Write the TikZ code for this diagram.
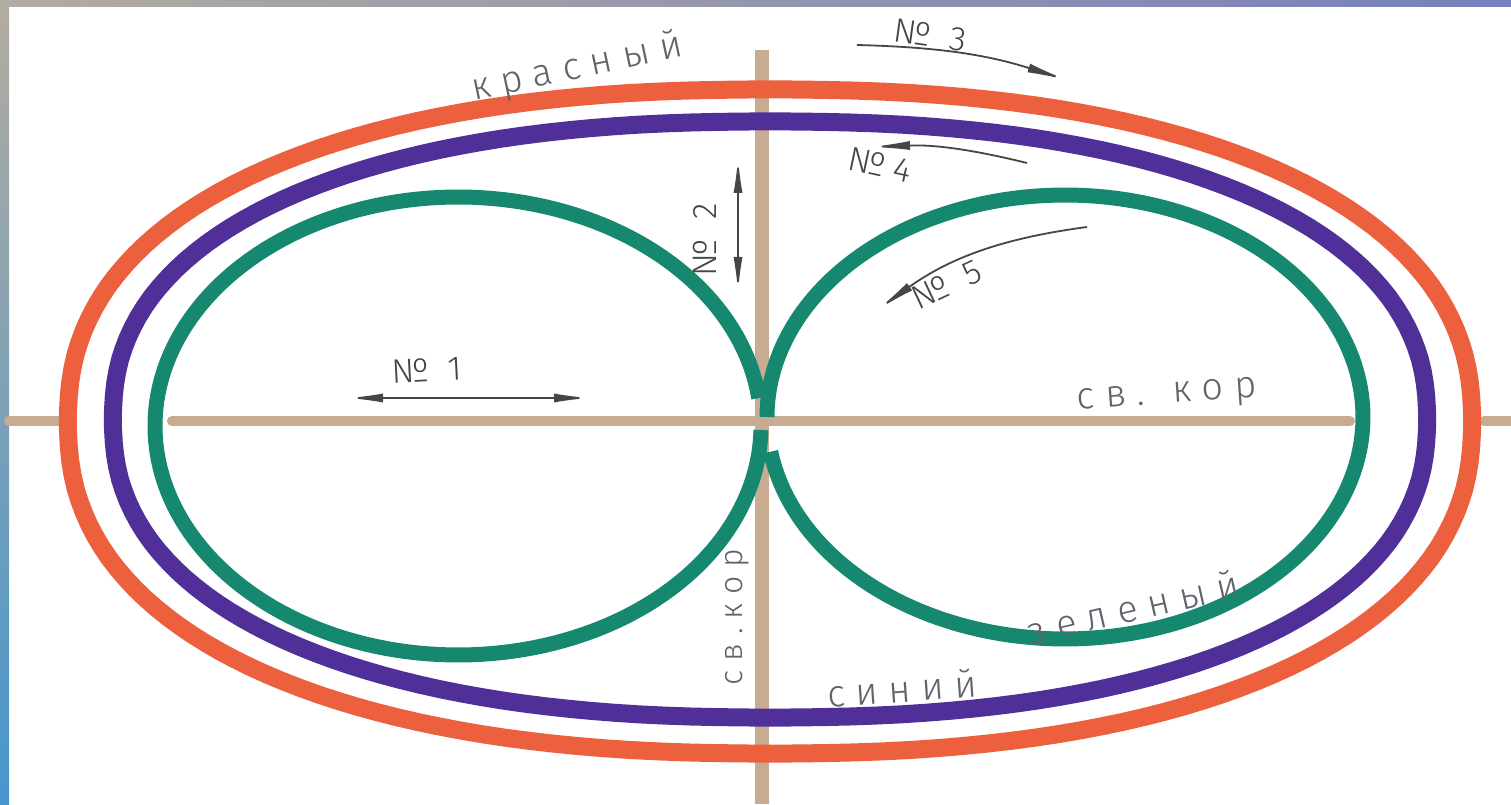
\documentclass[tikz,border=0pt]{standalone}
\usepackage{fontspec}
\newfontfamily\hand[LetterSpace=28]{Fira Sans Light}
\usetikzlibrary{arrows.meta}
\definecolor{ringred}{RGB}{236, 96, 62}
\definecolor{ringblue}{RGB}{80, 48, 152}
\definecolor{ringgreen}{RGB}{22, 136, 112}
\definecolor{barwood}{RGB}{200, 172, 146}
\definecolor{pencil}{RGB}{96, 100, 106}
\definecolor{slidetan}{RGB}{178, 172, 160}
\definecolor{slideblue}{RGB}{118, 128, 188}
\definecolor{slidesea}{RGB}{70, 150, 205}
\tikzstyle{ring}    = [line width=9pt, line join=round]
\tikzstyle{loop}    = [line width=7.5pt, draw=ringgreen, line cap=butt]
\tikzstyle{bar}     = [line width=5pt, draw=barwood, line cap=round]
\tikzstyle{pencil}  = [text=pencil, inner sep=0pt, font=\hand\fontsize{19}{21}\selectfont]
\tikzstyle{numtext} = [text=pencil!70!black, inner sep=0pt, font=\hand\fontsize{17}{19}\selectfont]
\tikzstyle{dir}     = [draw=pencil!70!black, line width=0.9pt, -{Latex[length=20pt, width=4.5pt]}]
\tikzstyle{dirtwo}  = [draw=pencil!70!black, line width=0.9pt, {Latex[length=18pt, width=4.5pt]}-{Latex[length=18pt, width=4.5pt]}]

\begin{document}
\begin{tikzpicture}[x=0.5pt, y=0.5pt]
  \useasboundingbox (0,0) rectangle (1511,804);
  \fill[white] (0,0) rectangle (1511,804);
  \shade[left color=slidetan, right color=slideblue] (0,797) rectangle (1511,804);
  \shade[top color=slidetan, bottom color=slidesea] (0,0) rectangle (9,797);

  % wooden axes
  \draw[bar] (9,383) -- (66,383);
  \draw[bar] (172,383) -- (1350,383);
  \draw[bar] (1484,383) -- (1511,383);
  \draw[bar, line width=7pt, line cap=butt] (762,754) -- (762,0);

  % rings
  \draw[ring, draw=ringred] plot[domain=1:359, samples=180, variable=\t]
    ({770+702*sign(cos(\t))*abs(cos(\t))^(0.87)}, {382.5+332*sign(sin(\t))*abs(sin(\t))^(0.87)}) -- cycle;
  \draw[ring, draw=ringblue] plot[domain=1:359, samples=180, variable=\t]
    ({770+657*sign(cos(\t))*abs(cos(\t))^(0.87)}, {384.5+298*sign(sin(\t))*abs(sin(\t))^(0.87)}) -- cycle;
  \draw[loop] plot[domain=7:359, samples=176, variable=\t]
    ({458+303*cos(\t)}, {378+229*sin(\t)});
  \draw[loop] plot[domain=189:540, samples=176, variable=\t]
    ({1065+298*cos(\t)}, {387+222*sin(\t)});

  % colour names
  \node (red)   [pencil, rotate=12] at (577,736) {красный};
  \node (blue)  [pencil, rotate=4]  at (902,116) {синий};
  \node (green) [pencil, rotate=13] at (1133,197) {зеленый};
  \node (axh)   [pencil, rotate=4]  at (1167,407) {св. кор};
  \node (axv)   [pencil, rotate=90, font=\hand\fontsize{16}{18}\selectfont] at (737,187) {св.кор};

  % numbered moves
  \node (n1) [numtext, rotate=3]   at (427,434) {№ 1};
  \node (n2) [numtext, rotate=90]  at (705,564) {№ 2};
  \node (n3) [numtext, rotate=-8]  at (930,769) {№ 3};
  \node (n4) [numtext, rotate=-12] at (880,639) {№4};
  \node (n5) [numtext, rotate=25]  at (947,519) {№ 5};

  \coordinate (a1l) at (347,406);  \coordinate (a1r) at (590,406);
  \coordinate (a2t) at (738,647);  \coordinate (a2b) at (738,511);
  \coordinate (a3s) at (857,759);  \coordinate (a3e) at (1067,724);
  \coordinate (a4s) at (1027,641); \coordinate (a4e) at (870,657);
  \coordinate (a5s) at (1087,577); \coordinate (a5e) at (877,494);

  \draw[dirtwo] (a1l) -- (a1r);
  \draw[dirtwo] (a2t) -- (a2b);
  \draw[dir] (a3s) to[bend left=8] (a3e);
  \draw[dir] (a4s) to[bend right=8] (a4e);
  \draw[dir] (a5s) to[bend right=14] (a5e);
\end{tikzpicture}
\end{document}
